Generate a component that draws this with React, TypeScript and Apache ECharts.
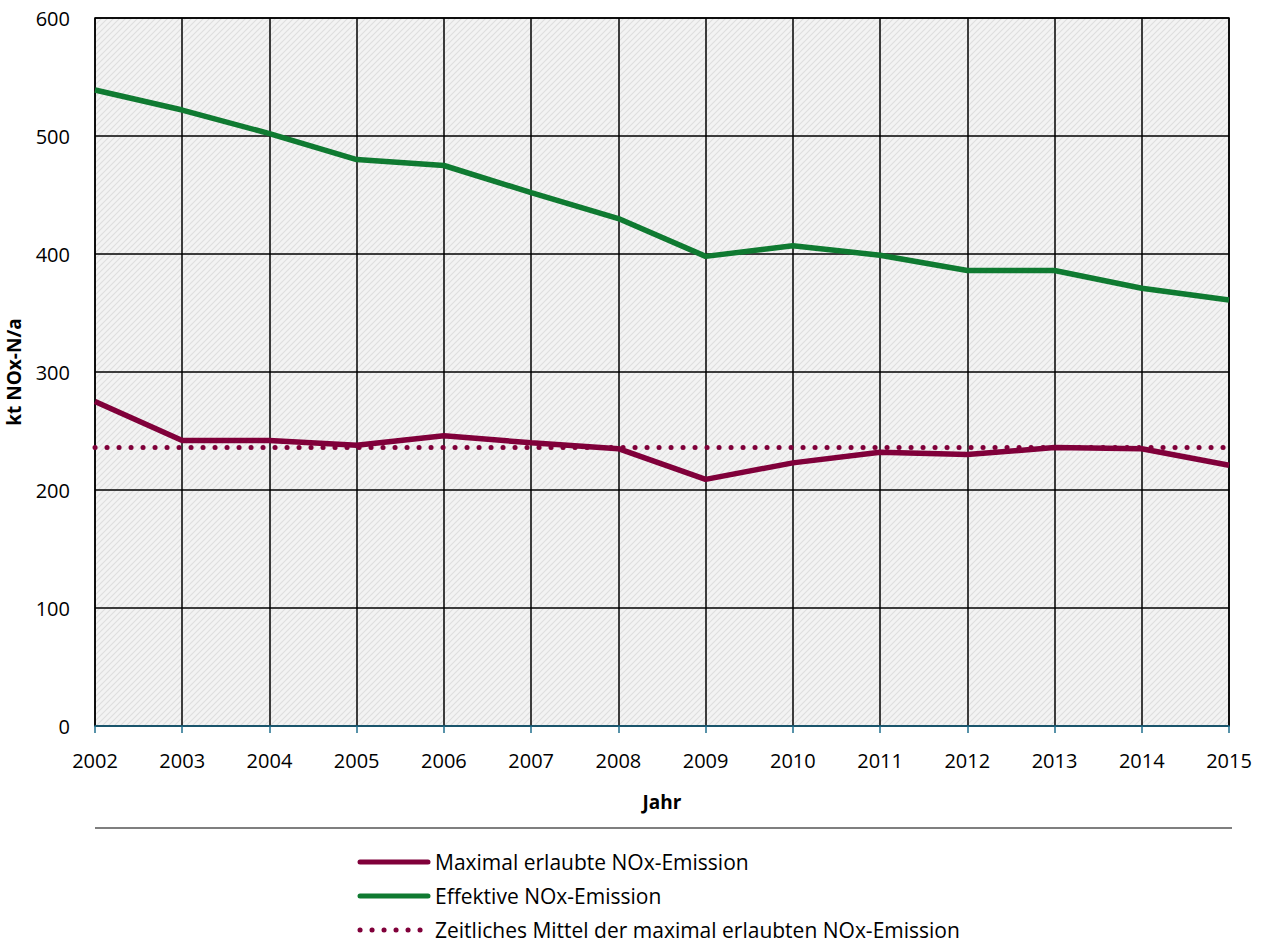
import React, { useEffect, useRef } from "react";
import * as echarts from "echarts";

const years = ["2002","2003","2004","2005","2006","2007","2008","2009","2010","2011","2012","2013","2014","2015"];
const maxAllowed = [275, 242, 242, 238, 246, 240, 235, 209, 223, 232, 230, 236, 235, 221];
const effective = [539, 522, 502, 480, 475, 452, 430, 398, 407, 399, 386, 386, 371, 361];
const meanAllowed = [236, 236, 236, 236, 236, 236, 236, 236, 236, 236, 236, 236, 236, 236];
const yTicks = [0, 100, 200, 300, 400, 500, 600];

const seriesNames = [
  "Maximal erlaubte NOx-Emission",
  "Effektive NOx-Emission",
  "Zeitliches Mittel der maximal erlaubten NOx-Emission",
];
const seriesColors = ["#80003a", "#0f7a31", "#80003a"];

const FONT = "'Open Sans', 'Noto Sans', sans-serif";

const hatchSvg =
  "<svg xmlns='http://www.w3.org/2000/svg' width='6' height='6'>" +
  "<rect width='6' height='6' fill='#f3f3f3'/>" +
  "<path d='M-1,1 L1,-1 M0,6 L6,0 M5,7 L7,5' stroke='#dedede' stroke-width='1.1'/>" +
  "</svg>";
const hatchUrl = "data:image/svg+xml;charset=utf-8," + encodeURIComponent(hatchSvg);

function legendGraphics() {
  const x0 = 358;
  const x1 = 430;
  const rows = [862, 896, 930];
  const out: any[] = [];
  seriesNames.forEach((name, i) => {
    const y = rows[i];
    if (i < 2) {
      out.push({
        type: "line",
        shape: { x1: x0 + 2, y1: y, x2: x1 - 2, y2: y },
        style: { stroke: seriesColors[i], lineWidth: 5, lineCap: "round" },
      });
    } else {
      out.push({
        type: "line",
        shape: { x1: x0 + 2, y1: y, x2: x1, y2: y },
        style: { stroke: seriesColors[i], lineWidth: 5, lineCap: "round", lineDash: [0.1, 11.9] },
      });
    }
    out.push({
      type: "text",
      x: 435,
      y,
      style: {
        text: name,
        fill: "#000",
        font: `21px ${FONT}`,
        textVerticalAlign: "middle",
        verticalAlign: "middle",
      },
    });
  });
  return out;
}

export default function App() {
  const ref = useRef<HTMLDivElement>(null);
  useEffect(() => {
    if (!ref.current) return;
    const chart = echarts.init(ref.current, null, { renderer: "svg" });
    chart.setOption({
      animation: false,
      backgroundColor: "#ffffff",
      textStyle: { fontFamily: FONT },
      grid: {
        left: 95,
        right: 34,
        top: 18,
        bottom: 220,
        show: true,
        backgroundColor: { image: hatchUrl, repeat: "repeat" } as any,
        borderColor: "#000000",
        borderWidth: 1.5,
        containLabel: false,
        outerBoundsMode: "none",
      } as any,
      xAxis: {
        type: "category",
        data: years,
        boundaryGap: false,
        name: "Jahr",
        nameLocation: "middle",
        nameGap: 66,
        nameTextStyle: { fontWeight: "bold", fontSize: 19, color: "#000", fontFamily: FONT },
        axisLine: { show: true, lineStyle: { color: "#1f6e8c", width: 1.5 } },
        axisTick: { show: true, inside: false, length: 7, lineStyle: { color: "#1f6e8c", width: 1.5 } },
        axisLabel: { color: "#000", fontSize: 20, margin: 24, fontFamily: FONT },
        splitLine: { show: true, lineStyle: { color: "#000", width: 1.5 } },
      },
      yAxis: {
        type: "value",
        min: 0,
        max: 600,
        interval: 100,
        name: "kt NOx-N/a",
        nameLocation: "middle",
        nameGap: 72,
        nameRotate: 90,
        nameTextStyle: { fontWeight: "bold", fontSize: 19, color: "#000", fontFamily: FONT },
        axisLine: { show: false },
        axisTick: { show: false },
        axisLabel: {
          color: "#000",
          fontSize: 20,
          margin: 25,
          fontFamily: FONT,
          formatter: (v: number) => (yTicks.includes(v) ? String(v) : ""),
        },
        splitLine: { show: true, lineStyle: { color: "#000", width: 1.5 } },
      },
      graphic: [
        {
          type: "line",
          shape: { x1: 95, y1: 828, x2: 1232, y2: 828 },
          style: { stroke: "#000", lineWidth: 1.2 },
        },
        ...legendGraphics(),
      ],
      series: [
        {
          name: seriesNames[0],
          type: "line",
          data: maxAllowed,
          symbol: "none",
          showSymbol: false,
          z: 4,
          lineStyle: { color: seriesColors[0], width: 5.5 },
          itemStyle: { color: seriesColors[0] },
        },
        {
          name: seriesNames[1],
          type: "line",
          data: effective,
          symbol: "none",
          showSymbol: false,
          z: 4,
          lineStyle: { color: seriesColors[1], width: 5.5 },
          itemStyle: { color: seriesColors[1] },
        },
        {
          name: seriesNames[2],
          type: "line",
          data: meanAllowed,
          symbol: "none",
          showSymbol: false,
          z: 3,
          lineStyle: { color: seriesColors[2], width: 5, type: [0.1, 11.9], cap: "round" },
          itemStyle: { color: seriesColors[2] },
        },
      ],
    });
    return () => chart.dispose();
  }, []);
  return (
    <div
      ref={ref}
      style={{ position: "fixed", left: 0, top: 0, width: 1263, height: 946 }}
    />
  );
}
